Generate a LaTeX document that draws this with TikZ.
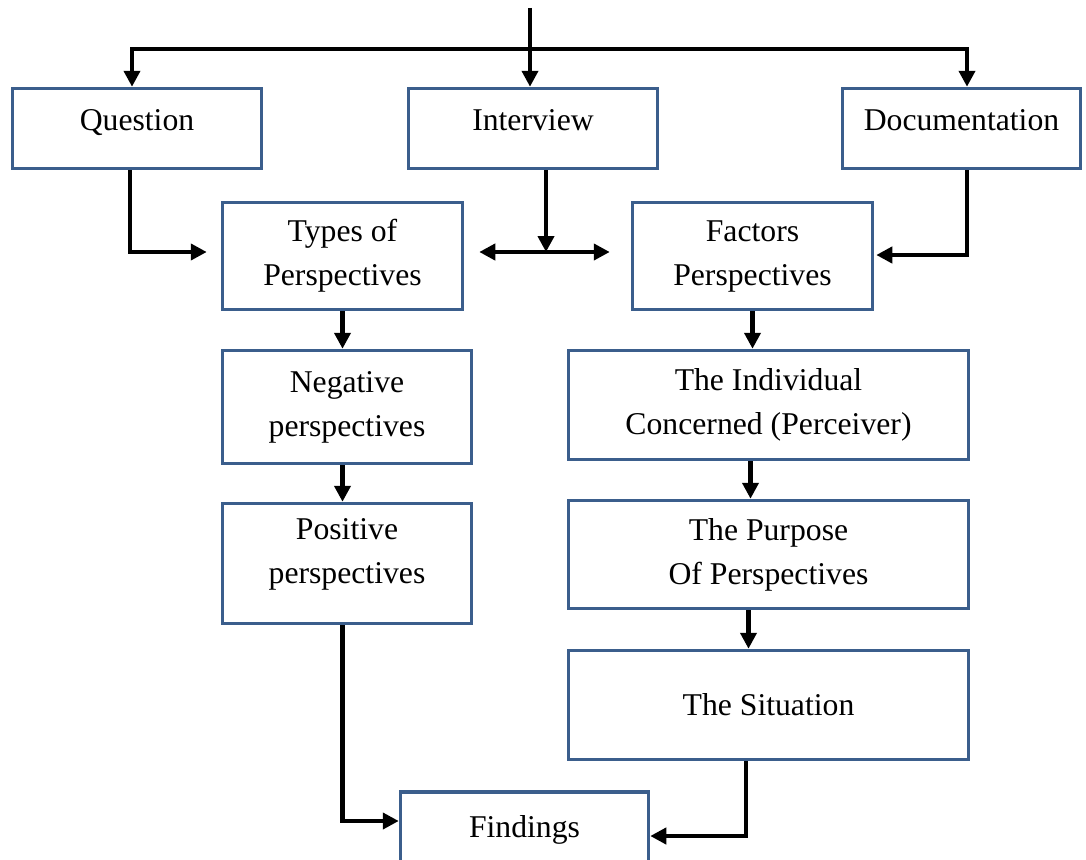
\documentclass[tikz,border=0pt]{standalone}
\usepackage{fontspec}
\setmainfont{Liberation Serif}
\usetikzlibrary{arrows.meta,calc}
\definecolor{boxblue}{RGB}{59,94,140}

\begin{document}
\begin{tikzpicture}[x=1pt, y=-1pt,
    box/.style={draw=boxblue, line width=3.5pt, inner sep=0pt, align=center,
        font=\fontsize{31.7}{44}\selectfont},
    toprow/.style={box, minimum width=249pt, minimum height=80pt, text height=21.5pt, text depth=17.5pt},
    arr/.style={line width=4.5pt, -{Triangle[length=16pt, width=16pt]}},
    dblarr/.style={line width=4.5pt, {Triangle[length=16pt, width=16pt]}-{Triangle[length=16pt, width=16pt]}}]
    \useasboundingbox (0, 0) rectangle (1086, 859);

    % Erste Reihe
    \node[toprow] (quest) at (137, 128.5) {Question};
    \node[toprow] (interv) at (533, 128.5) {Interview};
    \node[toprow, minimum width=238pt] (docu) at (961.5, 128.5) {Documentation};

    % Perspektiven
    \node[box, minimum width=240pt, minimum height=107pt] (types) at (342.5, 256) {Types of\\Perspectives};
    \node[box, minimum width=240pt, minimum height=107pt] (factors) at (752.5, 256) {Factors\\Perspectives};

    % linke Spalte
    \node[box, minimum width=249pt, minimum height=113pt] (neg) at (347, 407) {Negative\\perspectives};
    \node[box, minimum width=249pt, minimum height=120pt, text depth=25pt] (pos) at (347, 563.5) {Positive\\perspectives};

    % rechte Spalte
    \node[box, minimum width=400pt, minimum height=109pt] (indiv) at (768.5, 405) {The Individual\\Concerned (Perceiver)};
    \node[box, minimum width=400pt, minimum height=108pt] (purpose) at (768.5, 554.5) {The Purpose\\Of Perspectives};
    \node[box, minimum width=400pt, minimum height=109pt] (situ) at (768.5, 705) {The Situation};

    % Ergebnis
    \node[box, minimum width=248pt, minimum height=76pt] (find) at (524.5, 830) {Findings};

    % Verteilung oben
    \coordinate (top) at (530, 8);
    \coordinate (split) at (530, 49);
    \draw[arr] (top) -- (top |- interv.north);
    \draw[arr] (split) -| ([xshift=-5pt]quest.north);
    \draw[arr] (split) -| ([xshift=5.5pt]docu.north);

    % zur zweiten Reihe
    \coordinate (mid) at (546, 252);
    \draw[arr] ([xshift=-7pt]quest.south) |- ($(types.west |- mid)+(-14, 0)$);
    \draw[arr] (interv.south -| mid) -- (mid);
    \draw[dblarr] ($(types.east |- mid)+(15, 0)$) -- ($(factors.west |- mid)+(-21, 0)$);
    \draw[arr] ([xshift=5.5pt]docu.south) |- ([xshift=2pt, yshift=1pt]factors.east);

    % Spalten
    \draw[arr] (types.south) -- (types.south |- neg.north);
    \draw[arr] (neg.south -| types.south) -- (types.south |- pos.north);
    \draw[arr] (factors.south) -- (factors.south |- indiv.north);
    \draw[arr] ([xshift=-18pt]indiv.south) -- ([xshift=-18pt]purpose.north);
    \draw[arr] ([xshift=-20pt]purpose.south) -- ([xshift=-20pt]situ.north);

    % zu Findings
    \draw[arr] (pos.south -| types.south) |- ([yshift=9pt]find.west);
    \draw[arr] ([xshift=-22.5pt]situ.south) |- ([yshift=-6pt]find.east);
\end{tikzpicture}
\end{document}
